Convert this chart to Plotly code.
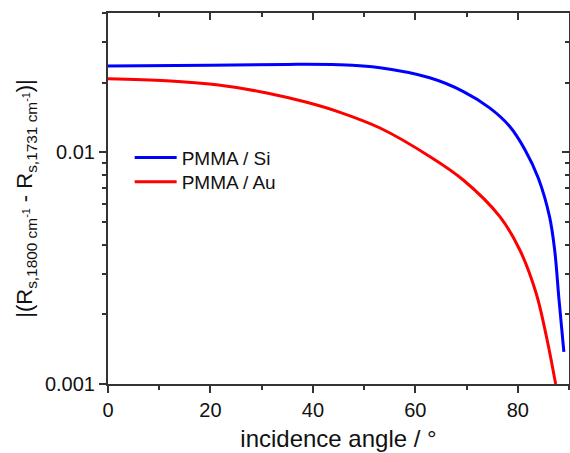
import plotly.graph_objects as go

# Incidence angle (degrees) and reflectance difference for each sample
angle_si = [0, 20, 35, 45, 53.1, 62.8, 69.3, 74.5, 78.4, 81.4, 84.0, 86.2, 87.2,
            88.06, 89.0]
diff_si = [0.0236, 0.0238, 0.0240, 0.0239, 0.0232, 0.0210, 0.01836, 0.01557,
           0.01297, 0.01028, 0.00776, 0.00528, 0.00379, 0.0023, 0.001376]

angle_au = [0, 11.4, 21.2, 31, 38.8, 45.3, 53.1, 62.8, 69.3, 76.5, 80.4, 83.6,
            85.6, 87.4]
diff_au = [0.0208, 0.0204, 0.0196, 0.01807, 0.01646, 0.0149, 0.01275, 0.00961,
           0.00762, 0.00528, 0.00379, 0.00246, 0.00160, 0.00100]

x_major = [0, 20, 40, 60, 80]
x_minor = [10, 30, 50, 70, 90]
y_major = [0.001, 0.01]
y_major_text = ["0.001", "0.01"]
y_minor = [0.002, 0.003, 0.004, 0.005, 0.006, 0.007, 0.008, 0.009,
           0.02, 0.03, 0.04]
y_range = [-3, -1.39794]  # log10 of 0.001 and 0.04

axis_color = "#333333"
font_family = "Liberation Sans, Arial, sans-serif"

fig = go.Figure()
fig.add_trace(go.Scatter(x=angle_si, y=diff_si, mode="lines", name="PMMA / Si",
                         legend="legend",
                         line=dict(color="#0000FF", width=3, shape="spline",
                                   smoothing=1.0)))
fig.add_trace(go.Scatter(x=angle_au, y=diff_au, mode="lines", name="PMMA / Au",
                         legend="legend2",
                         line=dict(color="#FF0000", width=3, shape="spline",
                                   smoothing=1.0)))
# invisible carrier for the mirrored top/right axes
fig.add_trace(go.Scatter(x=[0], y=[0.01], xaxis="x2", yaxis="y2", mode="markers",
                         marker=dict(opacity=0), showlegend=False, hoverinfo="skip"))

legend_style = dict(xanchor="left", yanchor="middle", bgcolor="rgba(0,0,0,0)",
                    font=dict(size=19), itemwidth=42)

fig.update_layout(
    width=570, height=453,
    margin=dict(l=108, r=1, t=13, b=69),
    paper_bgcolor="white", plot_bgcolor="white",
    font=dict(family=font_family, color="#111111", size=20),
    showlegend=True,
    legend=dict(x=0.047, y=0.610, **legend_style),
    legend2=dict(x=0.047, y=0.545, **legend_style),
    xaxis=dict(
        range=[0, 90], tickvals=x_major, ticks="outside", ticklen=7, tickwidth=1.5,
        tickcolor=axis_color, showline=True, linecolor=axis_color, linewidth=2,
        showgrid=False, zeroline=False, tickfont=dict(size=20),
        minor=dict(tickvals=x_minor, ticks="outside", ticklen=4, tickwidth=1.5,
                   tickcolor=axis_color, showgrid=False),
        title=dict(text="incidence angle / °", font=dict(size=24), standoff=10),
    ),
    yaxis=dict(
        type="log", range=y_range, tickvals=y_major, ticktext=y_major_text,
        ticks="outside", ticklen=7, tickwidth=1.5, tickcolor=axis_color,
        showline=True, linecolor=axis_color, linewidth=2, showgrid=False,
        zeroline=False, tickfont=dict(size=20),
        minor=dict(tickvals=y_minor, ticks="outside", ticklen=4, tickwidth=1.5,
                   tickcolor=axis_color, showgrid=False),
        title=dict(text="|(R<sub>s,1800 cm<sup>-1</sup></sub> - "
                        "R<sub>s,1731 cm<sup>-1</sup></sub>)|",
                   font=dict(size=22), standoff=6),
    ),
    xaxis2=dict(
        range=[0, 90], overlaying="x", side="top", anchor="y", tickvals=x_major,
        ticks="inside", ticklen=7, tickwidth=1.5, tickcolor=axis_color,
        showticklabels=False, showline=True, linecolor=axis_color, linewidth=2,
        showgrid=False, zeroline=False,
        minor=dict(tickvals=x_minor, ticks="inside", ticklen=4, tickwidth=1.5,
                   tickcolor=axis_color, showgrid=False),
    ),
    yaxis2=dict(
        type="log", range=y_range, overlaying="y", side="right", anchor="x",
        tickvals=y_major, ticks="inside", ticklen=7, tickwidth=1.5,
        tickcolor=axis_color, showticklabels=False, showline=True,
        linecolor=axis_color, linewidth=2, showgrid=False, zeroline=False,
        minor=dict(tickvals=y_minor, ticks="inside", ticklen=4, tickwidth=1.5,
                   tickcolor=axis_color, showgrid=False),
    ),
)

fig.write_html("out.html")
